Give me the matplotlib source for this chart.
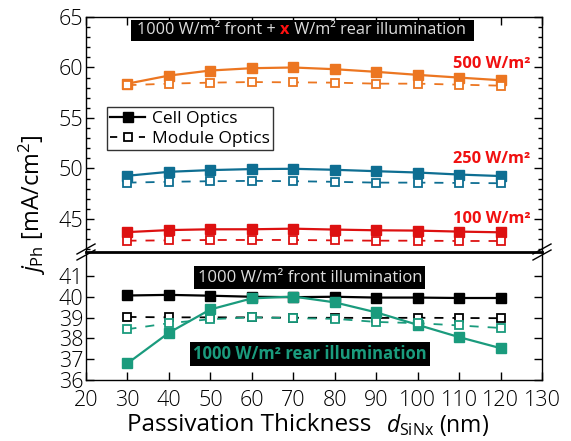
import matplotlib
matplotlib.use('Agg')
import matplotlib.pyplot as plt
from matplotlib.lines import Line2D
from matplotlib.patches import Rectangle

plt.rcParams['font.family'] = ['Open Sans', 'DejaVu Sans']
plt.rcParams['mathtext.fontset'] = 'custom'
plt.rcParams['mathtext.rm'] = 'Open Sans'
plt.rcParams['mathtext.it'] = 'Open Sans:italic'

# passivation thickness (nm)
thickness = [30, 40, 50, 60, 70, 80, 90, 100, 110, 120]

# bifacial: 1000 W/m2 front + x W/m2 rear
cell_500 = [58.4, 59.2, 59.7, 59.93, 60.0, 59.83, 59.57, 59.27, 59.0, 58.74]
module_500 = [58.25, 58.4, 58.5, 58.56, 58.53, 58.5, 58.4, 58.4, 58.3, 58.2]
cell_250 = [49.28, 49.67, 49.84, 49.94, 49.97, 49.87, 49.73, 49.6, 49.4, 49.25]
module_250 = [48.6, 48.68, 48.74, 48.77, 48.74, 48.68, 48.6, 48.6, 48.57, 48.54]
cell_100 = [43.7, 43.9, 43.98, 43.98, 44.04, 43.95, 43.88, 43.85, 43.75, 43.68]
module_100 = [42.85, 42.88, 42.92, 42.92, 42.92, 42.88, 42.85, 42.85, 42.82, 42.82]

# monofacial illumination
cell_front = [40.06, 40.09, 40.05, 40.0, 39.98, 40.0, 39.96, 39.96, 39.94, 39.94]
module_front = [39.03, 39.01, 39.01, 39.01, 38.99, 38.99, 38.98, 38.99, 38.98, 38.97]
cell_rear = [36.8, 38.27, 39.39, 39.92, 40.01, 39.73, 39.25, 38.65, 38.06, 37.53]
module_rear = [38.44, 38.73, 38.92, 39.01, 38.97, 38.94, 38.79, 38.73, 38.62, 38.5]

top_series = [
    (cell_500, module_500, '#EC7621', '500 W/m²', 60.35),
    (cell_250, module_250, '#0E6E92', '250 W/m²', 50.9),
    (cell_100, module_100, '#DD1111', '100 W/m²', 45.0),
]
bottom_series = [
    (cell_front, module_front, 'black'),
    (cell_rear, module_rear, '#1A9B7D'),
]

W, H = 571, 441
fig = plt.figure(figsize=(W / 100, H / 100), dpi=100)
x_left, x_right = 86, 542
y_top, y_break, y_bottom = 17, 252, 380
ax_top = fig.add_axes([x_left / W, 1 - y_break / H, (x_right - x_left) / W, (y_break - y_top) / H])
ax_bot = fig.add_axes([x_left / W, 1 - y_bottom / H, (x_right - x_left) / W, (y_bottom - y_break) / H])


def draw_pair(ax, cell, module, color):
    ax.plot(thickness, cell, '-s', color=color, lw=1.6, ms=6.5, mfc=color, mec=color, zorder=3)
    ax.plot(thickness, module, '--s', color=color, lw=1.3, ms=5.5, mfc='white', mec=color,
            mew=1.3, dashes=(5, 5), zorder=3)


for cell, module, color, label, ly in top_series:
    draw_pair(ax_top, cell, module, color)
    ax_top.text(127.2, ly, label, color='#F01010', fontsize=11.8, fontweight='bold',
                ha='right', va='center')

for cell, module, color in bottom_series:
    draw_pair(ax_bot, cell, module, color)

for ax in (ax_top, ax_bot):
    ax.set_xlim(20, 130)
    ax.set_xticks(range(20, 131, 10))
    ax.tick_params(direction='in', top=True, right=True, labelsize=15.5, length=6, width=1)
    ax.tick_params(which='minor', direction='in', right=True, length=3, width=1)
    for s in ax.spines.values():
        s.set_linewidth(1)
    for lab in ax.get_xticklabels() + ax.get_yticklabels():
        lab.set_fontweight('light')

ax_top.set_ylim(41.73, 65)
ax_top.set_yticks([45, 50, 55, 60, 65])
ax_top.set_yticks(range(42, 66), minor=True)
ax_top.spines['bottom'].set_visible(False)
ax_top.tick_params(axis='x', bottom=False, labelbottom=False)
ax_top.tick_params(axis='y', pad=2)

ax_bot.set_ylim(36, 42.15)
ax_bot.set_yticks([36, 37, 38, 39, 40, 41])
ax_bot.spines['top'].set_linewidth(2)
ax_bot.tick_params(axis='x', top=False, pad=7)
ax_bot.tick_params(axis='y', pad=2)

# boxed annotations
ax_top.add_patch(Rectangle((30.9, 62.65), 82.8, 2.05, facecolor='black', edgecolor='none', zorder=4))
t1 = ax_top.text(32.4, 63.7, '1000 W/m² front + ', color='#DDDDDD', fontsize=11.7,
                 ha='left', va='center', zorder=5)
t2 = ax_top.annotate('x', xy=(1, 0), xycoords=t1, color='#FF1010', fontsize=11.7,
                     fontweight='bold', va='bottom', zorder=5)
ax_top.annotate(' W/m² rear illumination', xy=(1, 0), xycoords=t2, color='#DDDDDD',
                fontsize=11.7, va='bottom', zorder=5)

ax_bot.text(74, 40.92, '1000 W/m² front illumination', color='#DDDDDD', fontsize=12,
            ha='center', va='center', zorder=5,
            bbox=dict(boxstyle='square,pad=0.2', facecolor='black', edgecolor='none'))
ax_bot.text(74, 37.25, '1000 W/m² rear illumination', color='#1A9B7D', fontsize=12,
            fontweight='bold', ha='center', va='center', zorder=5,
            bbox=dict(boxstyle='square,pad=0.2', facecolor='black', edgecolor='none'))

# legend
handles = [
    Line2D([], [], color='black', lw=1.6, marker='s', ms=6.5),
    Line2D([], [], color='black', lw=1.3, ls='--', dashes=(4, 4), marker='s', ms=5.5,
           mfc='white', mew=1.3),
]
leg = ax_top.legend(handles, ['Cell Optics', 'Module Optics'], loc='upper left',
                    bbox_to_anchor=(0.046, 0.615), fontsize=12.5, fancybox=False,
                    edgecolor='#333333', framealpha=1, handlelength=2.0,
                    borderpad=0.2, labelspacing=0.2, handletextpad=0.4, borderaxespad=0)
leg.get_frame().set_linewidth(1)

# break marks
for xp in (x_left, x_right):
    for dy in (-3, 3):
        x0, x1 = xp - 9, xp + 9
        y0, y1 = H - (y_break + dy + 5), H - (y_break + dy - 5)
        fig.add_artist(Line2D([x0 / W, x1 / W], [y0 / H, y1 / H], color='black', lw=1,
                              transform=fig.transFigure))

# axis labels
fig.text(32 / W, 1 - 205 / H, r'$j_{\mathrm{Ph}}$ [mA/cm$^2$]', rotation=90, fontsize=17,
         ha='center', va='center')
fig.text(127 / W, 1 - 425 / H, 'Passivation Thickness', fontsize=17.5, ha='left', va='center')
fig.text(386 / W, 1 - 425 / H, r'$d_{\mathrm{SiNx}}$ (nm)', fontsize=16.5, ha='left', va='center')

fig.savefig('out.png', dpi=100)
